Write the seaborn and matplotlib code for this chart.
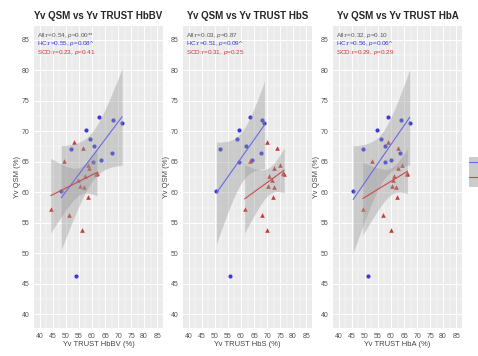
import numpy as np
import pandas as pd
import matplotlib
matplotlib.use("Agg")
import matplotlib.pyplot as plt
import seaborn as sns
from matplotlib.patches import Patch
from matplotlib.lines import Line2D

# ---------------- data ----------------
hc_qsm = [72.4, 71.9, 71.4, 70.2, 68.75, 67.6, 67.1, 66.5, 65.3, 65.0, 60.2, 46.2]
hc_hbbv = [62.5, 67.9, 71.6, 57.7, 59.3, 60.8, 51.8, 67.5, 63.3, 60.5, 48.2, 54.0]
hc_hbs = [63.3, 68.1, 69.0, 59.1, 58.6, 62.0, 51.9, 67.6, 64.1, 59.3, 50.6, 55.7]
hc_hba = [59.0, 63.7, 67.2, 54.6, 56.3, 57.6, 49.4, 63.6, 59.9, 57.6, 45.5, 51.2]

scd_qsm = [68.3, 67.3, 65.2, 64.5, 63.9, 63.2, 63.0, 62.7, 62.0, 61.0, 60.9, 59.3, 57.2, 56.2, 53.8]
scd_hbbv = [53.2, 56.6, 49.3, 58.3, 59.0, 61.9, 61.5, 57.5, 54.8, 55.4, 56.8, 58.3, 44.2, 51.2, 56.2]
scd_hbs = [70.0, 73.8, 63.5, 75.1, 72.6, 76.3, 76.6, 70.9, 71.8, 70.5, 72.7, 72.1, 61.4, 68.0, 69.9]
scd_hba = [59.0, 62.8, 52.6, 64.2, 62.7, 66.3, 66.0, 61.0, 60.8, 60.4, 61.9, 62.2, 49.2, 56.8, 59.9]

titles = ["Yv QSM vs Yv TRUST HbBV", "Yv QSM vs Yv TRUST HbS", "Yv QSM vs Yv TRUST HbA"]
xlabels = ["Yv TRUST HbBV (%)", "Yv TRUST HbS (%)", "Yv TRUST HbA (%)"]
ylabel = "Yv QSM (%)"
all_r = ["0.54", "0.03", "0.32"]
all_p = ["0.00**", "0.87", "0.10"]
hc_r = ["0.55", "0.51", "0.56"]
hc_p = ["0.08^", "0.09^", "0.06^"]
scd_r = ["0.23", "0.31", "0.29"]
scd_p = ["0.41", "0.25", "0.29"]
groups = ["HC", "SCD"]
ticks = [40, 45, 50, 55, 60, 65, 70, 75, 80, 85]

# ---------------- style ----------------
sns.set_theme(style="white")
plt.rcParams["font.family"] = ["Liberation Sans", "DejaVu Sans"]
plt.rcParams["mathtext.fontset"] = "custom"
plt.rcParams["mathtext.rm"] = "Liberation Sans"
plt.rcParams["mathtext.it"] = "Liberation Sans:italic"

BLUE = "#3a3ae0"
RED = "#c93a3a"
BLUE_L = "#6a6ae6"
RED_L = "#cc4a4a"
GREY_TXT = "#5a5a5a"

W, H = 478, 356
fig = plt.figure(figsize=(W / 100, H / 100), dpi=100)

lefts = [34, 183, 333]
top, bottom = 26, 328
pw = 129

tcrit = {10: 2.228, 11: 2.201, 12: 2.179, 13: 2.160, 14: 2.145}

def ci_band(ax, x, y):
    x = np.asarray(x, float); y = np.asarray(y, float)
    n = len(x)
    b1, b0 = np.polyfit(x, y, 1)
    res = y - (b0 + b1 * x)
    s = np.sqrt(np.sum(res ** 2) / (n - 2))
    sxx = np.sum((x - x.mean()) ** 2)
    g = np.linspace(x.min(), x.max(), 80)
    se = s * np.sqrt(1.0 / n + (g - x.mean()) ** 2 / sxx)
    fit = b0 + b1 * g
    t = tcrit[n - 2]
    ax.fill_between(g, fit - t * se, fit + t * se, color="#999999", alpha=0.4, lw=0, zorder=3)

hc_x = [hc_hbbv, hc_hbs, hc_hba]
scd_x = [scd_hbbv, scd_hbs, scd_hba]

for i in range(3):
    ax = fig.add_axes([lefts[i] / W, 1 - bottom / H, pw / W, (bottom - top) / H])
    ax.set_facecolor("#ebebeb")
    df_hc = pd.DataFrame({"x": hc_x[i], "y": hc_qsm})
    df_scd = pd.DataFrame({"x": scd_x[i], "y": scd_qsm})

    sns.scatterplot(data=df_hc, x="x", y="y", marker="o", color=BLUE, s=9,
                    linewidth=0, ax=ax, zorder=2)
    sns.scatterplot(data=df_scd, x="x", y="y", marker="^", color=RED, s=11,
                    linewidth=0, ax=ax, zorder=2)
    ci_band(ax, hc_x[i], hc_qsm)
    ci_band(ax, scd_x[i], scd_qsm)
    sns.regplot(data=df_hc, x="x", y="y", scatter=False, ci=None, color=BLUE_L,
                line_kws=dict(lw=0.8, zorder=4), truncate=True, ax=ax)
    sns.regplot(data=df_scd, x="x", y="y", scatter=False, ci=None, color=RED_L,
                line_kws=dict(lw=0.8, zorder=4), truncate=True, ax=ax)

    ax.set_xlim(37.75, 87.25)
    ax.set_ylim(37.75, 87.25)
    ax.set_xticks(ticks)
    ax.set_yticks(ticks)
    ax.set_xticks([t + 2.5 for t in ticks[:-1]], minor=True)
    ax.set_yticks([t + 2.5 for t in ticks[:-1]], minor=True)
    ax.grid(True, which="major", color="white", lw=0.7)
    ax.grid(True, which="minor", color="white", lw=0.35)
    ax.set_axisbelow(True)
    for sp in ax.spines.values():
        sp.set_visible(False)
    ax.tick_params(which="major", length=2, width=0.5, color="#444444",
                   labelsize=5, labelcolor="#555555", pad=1.5)
    ax.tick_params(which="minor", length=0)
    ax.set_xlabel(xlabels[i], fontsize=5.5, color="#444444", labelpad=0.5)
    ax.set_ylabel(ylabel, fontsize=5.5, color="#444444", labelpad=0.5)
    ax.set_title(titles[i], fontsize=7, fontweight="bold", pad=5)

    ax.text(39, 85.75, f"All:r={all_r[i]}, $\\it{{p}}$={all_p[i]}", fontsize=4.6,
            color=GREY_TXT, va="center", ha="left", zorder=6)
    ax.text(39, 84.3, f"HC:r={hc_r[i]}, $\\it{{p}}$={hc_p[i]}", fontsize=4.6,
            color=BLUE, va="center", ha="left", zorder=6)
    ax.text(39, 82.85, f"SCD:r={scd_r[i]}, $\\it{{p}}$={scd_p[i]}", fontsize=4.6,
            color=RED, va="center", ha="left", zorder=6)

handles = [(Patch(facecolor="#cccccc", edgecolor="none"), Line2D([], [], color=BLUE_L, lw=0.8)),
           (Patch(facecolor="#cccccc", edgecolor="none"), Line2D([], [], color=RED_L, lw=0.8))]
fig.legend(handles=handles, labels=groups, loc="upper left",
           bbox_to_anchor=(469 / W, 1 - 157 / H), frameon=False, borderpad=0,
           borderaxespad=0, handlelength=2.4, handleheight=2.4, labelspacing=0,
           fontsize=6, handletextpad=0.5)

fig.savefig("out.png", dpi=100)
